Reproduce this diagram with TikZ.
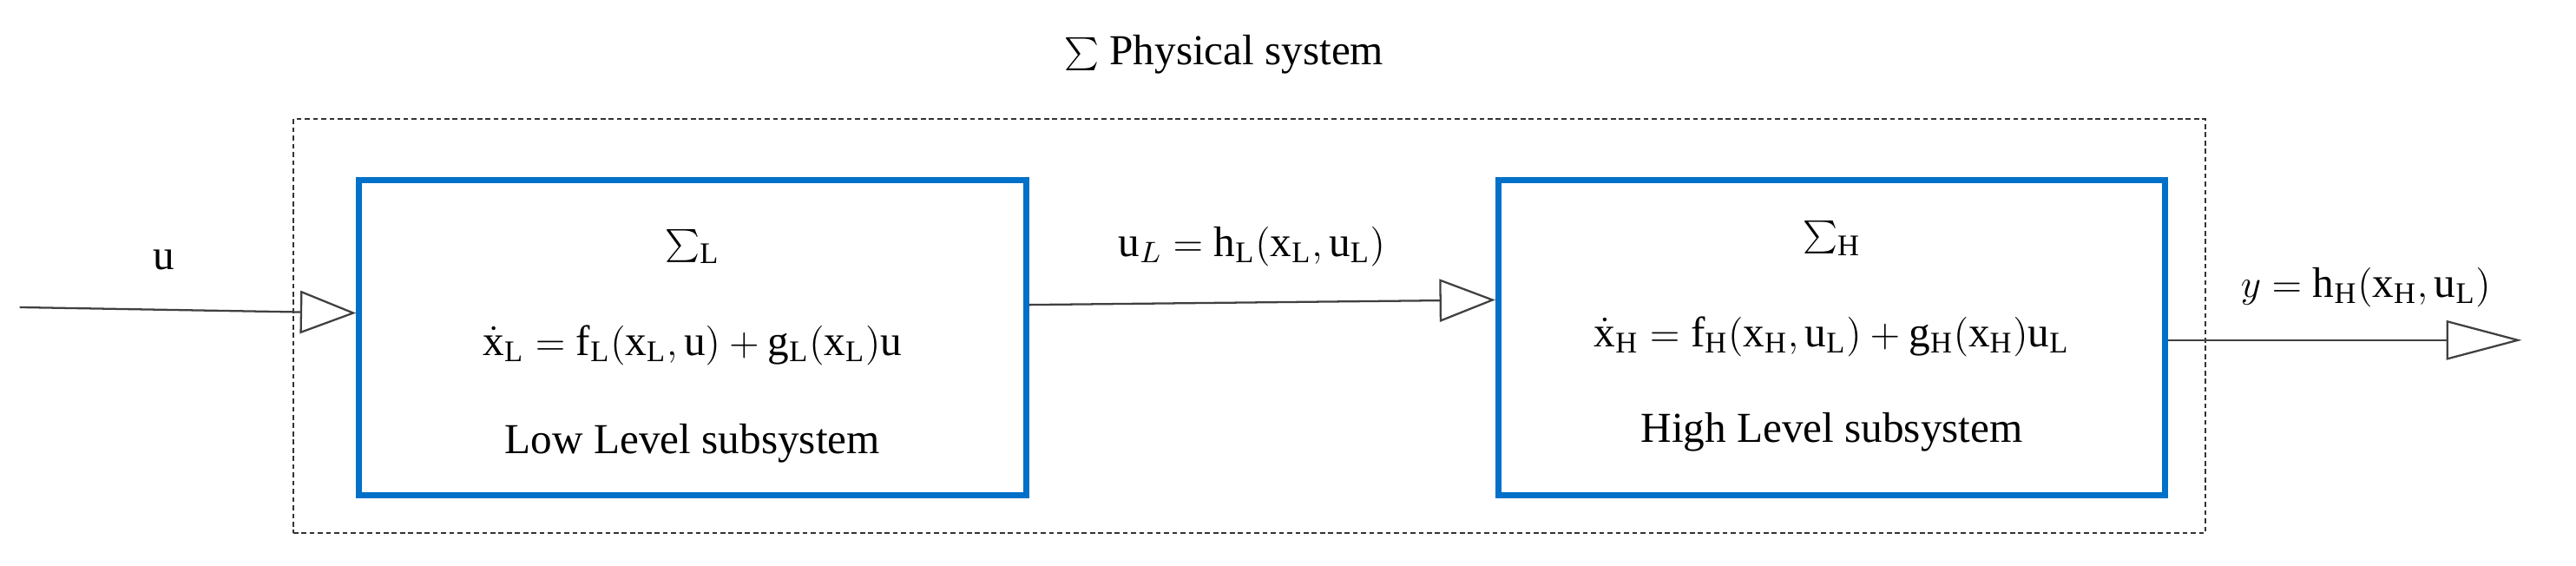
\documentclass[tikz,border=0pt]{standalone}
\usepackage{fontspec}
\setmainfont{Liberation Serif}
\usetikzlibrary{arrows.meta}
\definecolor{boxblue}{RGB}{0,112,200}
\tikzset{
  sysbox/.style={draw=boxblue,line width=1.8pt,minimum width=203pt,minimum height=96pt,inner sep=0pt},
  outer/.style={draw=black!80,dashed,dash pattern=on 1.5pt off 1pt,line width=0.5pt,minimum width=582pt,minimum height=126pt,inner sep=0pt},
  sig/.style={draw=black!75,line width=0.6pt},
  inarr/.style={-{Triangle[open,length=17pt,width=13pt]}},
  outarr/.style={-{Triangle[open,length=23pt,width=12pt]}},
  lbl/.style={font=\fontsize{13}{15}\selectfont}
}
\newcommand{\bigsum}{\mathop{\vcenter{\hbox{\fontsize{17}{17}\selectfont$\textstyle\sum$}}}\nolimits}
\begin{document}
\begin{tikzpicture}[x=0.5pt,y=-0.5pt,lbl]
\useasboundingbox (0,0) rectangle (1568,344);
\node[outer] (phys) at (760.5,198.5) {};
\node (ptitle) at (745,33) {$\textstyle\sum$ Physical system};
\node[sysbox] (lbox) at (421.5,205.5) {};
\node[sysbox] (rbox) at (1115,205.5) {};
\node (lsig) at (421.5,150) {$\bigsum_{\mathrm{L}}$};
\node (leq) at (421.5,210) {$\dot{\mathrm{x}}_{\mathrm{L}}=\mathrm{f}_{\mathrm{L}}(\mathrm{x}_{\mathrm{L}},\mathrm{u})+\mathrm{g}_{\mathrm{L}}(\mathrm{x}_{\mathrm{L}})\mathrm{u}$};
\node (ltxt) at (421.5,270) {Low Level subsystem};
\node (rsig) at (1115,145) {$\bigsum_{\mathrm{H}}$};
\node (req) at (1115,205) {$\dot{\mathrm{x}}_{\mathrm{H}}=\mathrm{f}_{\mathrm{H}}(\mathrm{x}_{\mathrm{H}},\mathrm{u}_{\mathrm{L}})+\mathrm{g}_{\mathrm{H}}(\mathrm{x}_{\mathrm{H}})\mathrm{u}_{\mathrm{L}}$};
\node (rtxt) at (1115,263) {High Level subsystem};
\coordinate (uin) at (12,187);
\coordinate (yout) at (1535,207);
\node (ulbl) at (100,158) {u};
\node (mlbl) at (762,150) {$\mathrm{u}_{L}=\mathrm{h}_{\mathrm{L}}(\mathrm{x}_{\mathrm{L}},\mathrm{u}_{\mathrm{L}})$};
\node (ylbl) at (1440,175) {$y=\mathrm{h}_{\mathrm{H}}(\mathrm{x}_{\mathrm{H}},\mathrm{u}_{\mathrm{L}})$};
\draw[sig,inarr] (uin) -- ([yshift=7.5pt]lbox.west);
\draw[sig,inarr] ([yshift=10pt]lbox.east) -- ([yshift=11.5pt]rbox.west);
\draw[sig,outarr] ([yshift=-0.75pt]rbox.east) -- (yout);
\end{tikzpicture}
\end{document}
